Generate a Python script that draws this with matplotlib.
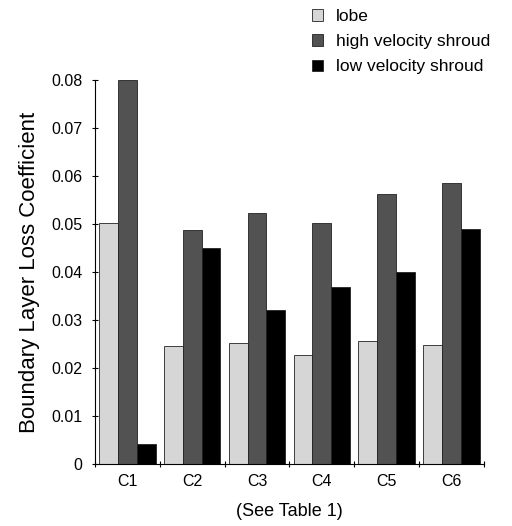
import matplotlib
matplotlib.use("Agg")
import matplotlib.pyplot as plt
import numpy as np

plt.rcParams['font.family'] = ['Liberation Sans', 'DejaVu Sans']

categories = ["C1", "C2", "C3", "C4", "C5", "C6"]
series_names = ["lobe", "high velocity shroud", "low velocity shroud"]
lobe = [0.0501, 0.0246, 0.0251, 0.0228, 0.0257, 0.0247]
high_velocity = [0.0800, 0.0487, 0.0522, 0.0501, 0.0562, 0.0586]
low_velocity = [0.0042, 0.0449, 0.0321, 0.0368, 0.0400, 0.0489]
yticks = [0, 0.01, 0.02, 0.03, 0.04, 0.05, 0.06, 0.07, 0.08]
ytick_labels = ["0", "0.01", "0.02", "0.03", "0.04", "0.05", "0.06", "0.07", "0.08"]

fig = plt.figure(figsize=(5.12, 5.26), dpi=100)
ax = fig.add_axes([0.1855, 0.1179, 0.7595, 0.7301])

x = np.arange(len(categories))
w = 0.29
colors = ["#d6d6d6", "#525252", "#000000"]
data = [lobe, high_velocity, low_velocity]
handles = []
for i, (vals, c, name) in enumerate(zip(data, colors, series_names)):
    b = ax.bar(x + (i - 1) * w, vals, width=w, color=c, edgecolor="#222222",
               linewidth=0.6, label=name)
    handles.append(b)

ax.set_xlim(-0.5, len(categories) - 0.5)
ax.set_ylim(0, 0.08)
ax.set_yticks(yticks)
ax.set_yticklabels(ytick_labels)
ax.set_xticks(x)
ax.set_xticklabels(categories)
ax.set_xticks(np.arange(len(categories) + 1) - 0.5, minor=True)
ax.tick_params(axis='x', which='major', length=0, labelsize=11.5, pad=7)
ax.tick_params(axis='x', which='minor', length=4, direction='inout', width=0.8)
ax.tick_params(axis='y', length=4, direction='inout', width=0.8, labelsize=11.5, pad=7)
for s in ["top", "right"]:
    ax.spines[s].set_visible(False)
for s in ["left", "bottom"]:
    ax.spines[s].set_linewidth(0.8)

ax.set_ylabel("Boundary Layer Loss Coefficient", fontsize=16, labelpad=8)
ax.set_xlabel("(See Table 1)", fontsize=13, labelpad=10)

fig.legend(handles=handles, labels=series_names, loc="upper left",
           bbox_to_anchor=(0.578, 1.012), frameon=False, fontsize=12.5,
           handlelength=0.65, handleheight=0.65, handletextpad=0.75,
           labelspacing=0.58)

fig.savefig("out.png", dpi=100)
